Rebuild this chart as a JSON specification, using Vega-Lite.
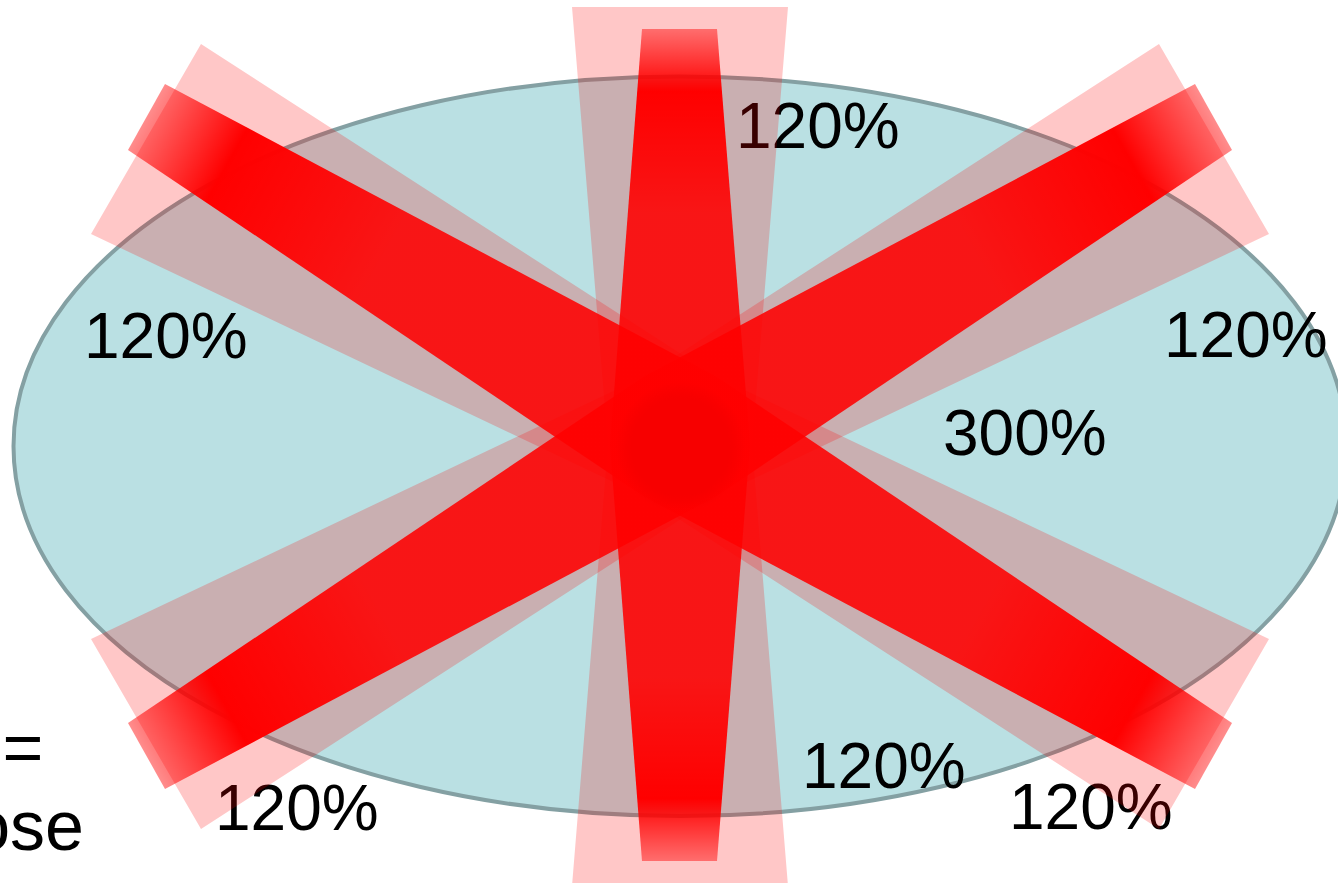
{
  "$schema": "https://vega.github.io/schema/vega-lite/v6.json",
  "width": 1338,
  "height": 883,
  "padding": 0,
  "autosize": {"type": "none"},
  "background": "white",
  "config": {"view": {"stroke": null}},
  "datasets": {
    "labels": [
      {"label": "120%", "x": 736, "y": 148},
      {"label": "120%", "x": 84, "y": 358},
      {"label": "120%", "x": 1164, "y": 357},
      {"label": "300%", "x": 943, "y": 455},
      {"label": "120%", "x": 802, "y": 788},
      {"label": "120%", "x": 215, "y": 830},
      {"label": "120%", "x": 1009, "y": 829}
    ],
    "legend": [
      {"label": "100% =", "x": 43.5, "y": 772},
      {"label": "dose", "x": 84, "y": 850}
    ],
    "pink": [
      {"beam": "V", "i": 0, "x": 572, "y": 7},
      {"beam": "V", "i": 1, "x": 788, "y": 7},
      {"beam": "V", "i": 2, "x": 752, "y": 445},
      {"beam": "V", "i": 3, "x": 788, "y": 886},
      {"beam": "V", "i": 4, "x": 572, "y": 886},
      {"beam": "V", "i": 5, "x": 608, "y": 445},
      {"beam": "D1", "i": 0, "x": 201, "y": 44},
      {"beam": "D1", "i": 1, "x": 716, "y": 376.5},
      {"beam": "D1", "i": 2, "x": 1269, "y": 639},
      {"beam": "D1", "i": 3, "x": 1159, "y": 829},
      {"beam": "D1", "i": 4, "x": 644, "y": 496.5},
      {"beam": "D1", "i": 5, "x": 91, "y": 234},
      {"beam": "D2", "i": 0, "x": 1159, "y": 44},
      {"beam": "D2", "i": 1, "x": 644, "y": 376.5},
      {"beam": "D2", "i": 2, "x": 91, "y": 639},
      {"beam": "D2", "i": 3, "x": 201, "y": 829},
      {"beam": "D2", "i": 4, "x": 716, "y": 496.5},
      {"beam": "D2", "i": 5, "x": 1269, "y": 234}
    ],
    "red": [
      {"beam": "V", "i": 0, "x": 642, "y": 29},
      {"beam": "V", "i": 1, "x": 717, "y": 29},
      {"beam": "V", "i": 2, "x": 750, "y": 445},
      {"beam": "V", "i": 3, "x": 717, "y": 861},
      {"beam": "V", "i": 4, "x": 642, "y": 861},
      {"beam": "V", "i": 5, "x": 610, "y": 445},
      {"beam": "D1", "i": 0, "x": 165, "y": 84},
      {"beam": "D1", "i": 1, "x": 716, "y": 376.5},
      {"beam": "D1", "i": 2, "x": 1232, "y": 723},
      {"beam": "D1", "i": 3, "x": 1195, "y": 789},
      {"beam": "D1", "i": 4, "x": 644, "y": 496.5},
      {"beam": "D1", "i": 5, "x": 128, "y": 150},
      {"beam": "D2", "i": 0, "x": 1195, "y": 84},
      {"beam": "D2", "i": 1, "x": 644, "y": 376.5},
      {"beam": "D2", "i": 2, "x": 128, "y": 723},
      {"beam": "D2", "i": 3, "x": 165, "y": 789},
      {"beam": "D2", "i": 4, "x": 716, "y": 496.5},
      {"beam": "D2", "i": 5, "x": 1232, "y": 150}
    ]
  },
  "layer": [
    {
      "data": {"values": [{"x": 680, "y": 446.25}]},
      "mark": {
        "type": "point",
        "shape": "M-1,0A1,0.5548,0,1,1,1,0A1,0.5548,0,1,1,-1,0Z",
        "size": 1776889,
        "filled": true,
        "fill": "#bae0e3",
        "stroke": "#84a0a3",
        "strokeWidth": 4,
        "opacity": 1
      },
      "encoding": {
        "x": {"field": "x", "type": "quantitative", "scale": {"domain": [0, 1338], "nice": false, "zero": false}, "axis": null},
        "y": {"field": "y", "type": "quantitative", "scale": {"domain": [0, 883], "nice": false, "zero": false, "reverse": true}, "axis": null}
      }
    },
    {
      "data": {"name": "labels"},
      "mark": {"type": "text", "font": "Liberation Sans", "fontSize": 64, "align": "left", "baseline": "alphabetic", "color": "black"},
      "encoding": {
        "x": {"field": "x", "type": "quantitative", "scale": {"domain": [0, 1338], "nice": false, "zero": false}, "axis": null},
        "y": {"field": "y", "type": "quantitative", "scale": {"domain": [0, 883], "nice": false, "zero": false, "reverse": true}, "axis": null},
        "text": {"field": "label"}
      }
    },
    {
      "data": {"name": "legend"},
      "mark": {"type": "text", "font": "Liberation Sans", "fontSize": 70, "align": "right", "baseline": "alphabetic", "color": "black"},
      "encoding": {
        "x": {"field": "x", "type": "quantitative", "scale": {"domain": [0, 1338], "nice": false, "zero": false}, "axis": null},
        "y": {"field": "y", "type": "quantitative", "scale": {"domain": [0, 883], "nice": false, "zero": false, "reverse": true}, "axis": null},
        "text": {"field": "label"}
      }
    },
    {
      "data": {"name": "pink"},
      "mark": {"type": "line", "interpolate": "linear-closed", "filled": true, "fill": "rgba(255,0,0,0.22)", "strokeWidth": 0, "opacity": 1},
      "encoding": {
        "x": {"field": "x", "type": "quantitative", "scale": {"domain": [0, 1338], "nice": false, "zero": false}, "axis": null},
        "y": {"field": "y", "type": "quantitative", "scale": {"domain": [0, 883], "nice": false, "zero": false, "reverse": true}, "axis": null},
        "detail": {"field": "beam"},
        "order": {"field": "i", "type": "quantitative"}
      }
    },
    {
      "data": {"name": "red"},
      "transform": [{"filter": "datum.beam == 'V'"}],
      "mark": {
        "type": "line", "interpolate": "linear-closed", "filled": true, "strokeWidth": 0, "opacity": 1,
        "fill": {
          "gradient": "linear", "x1": 0, "y1": 0, "x2": 0, "y2": 1,
          "stops": [
            {"offset": 0, "color": "rgba(255,0,0,0.45)"},
            {"offset": 0.075, "color": "rgba(255,0,0,1)"},
            {"offset": 0.22, "color": "rgba(255,0,0,0.88)"},
            {"offset": 0.78, "color": "rgba(255,0,0,0.88)"},
            {"offset": 0.925, "color": "rgba(255,0,0,1)"},
            {"offset": 1, "color": "rgba(255,0,0,0.45)"}
          ]
        }
      },
      "encoding": {
        "x": {"field": "x", "type": "quantitative", "scale": {"domain": [0, 1338], "nice": false, "zero": false}, "axis": null},
        "y": {"field": "y", "type": "quantitative", "scale": {"domain": [0, 883], "nice": false, "zero": false, "reverse": true}, "axis": null},
        "order": {"field": "i", "type": "quantitative"}
      }
    },
    {
      "data": {"name": "red"},
      "transform": [{"filter": "datum.beam == 'D1'"}],
      "mark": {
        "type": "line", "interpolate": "linear-closed", "filled": true, "strokeWidth": 0, "opacity": 1,
        "fill": {
          "gradient": "linear", "x1": -0.072, "y1": 0.295, "x2": 1.072, "y2": 0.705,
          "stops": [
            {"offset": 0, "color": "rgba(255,0,0,0.45)"},
            {"offset": 0.075, "color": "rgba(255,0,0,1)"},
            {"offset": 0.22, "color": "rgba(255,0,0,0.88)"},
            {"offset": 0.78, "color": "rgba(255,0,0,0.88)"},
            {"offset": 0.925, "color": "rgba(255,0,0,1)"},
            {"offset": 1, "color": "rgba(255,0,0,0.45)"}
          ]
        }
      },
      "encoding": {
        "x": {"field": "x", "type": "quantitative", "scale": {"domain": [0, 1338], "nice": false, "zero": false}, "axis": null},
        "y": {"field": "y", "type": "quantitative", "scale": {"domain": [0, 883], "nice": false, "zero": false, "reverse": true}, "axis": null},
        "order": {"field": "i", "type": "quantitative"}
      }
    },
    {
      "data": {"name": "red"},
      "transform": [{"filter": "datum.beam == 'D2'"}],
      "mark": {
        "type": "line", "interpolate": "linear-closed", "filled": true, "strokeWidth": 0, "opacity": 1,
        "fill": {
          "gradient": "linear", "x1": 1.072, "y1": 0.295, "x2": -0.072, "y2": 0.705,
          "stops": [
            {"offset": 0, "color": "rgba(255,0,0,0.45)"},
            {"offset": 0.075, "color": "rgba(255,0,0,1)"},
            {"offset": 0.22, "color": "rgba(255,0,0,0.88)"},
            {"offset": 0.78, "color": "rgba(255,0,0,0.88)"},
            {"offset": 0.925, "color": "rgba(255,0,0,1)"},
            {"offset": 1, "color": "rgba(255,0,0,0.45)"}
          ]
        }
      },
      "encoding": {
        "x": {"field": "x", "type": "quantitative", "scale": {"domain": [0, 1338], "nice": false, "zero": false}, "axis": null},
        "y": {"field": "y", "type": "quantitative", "scale": {"domain": [0, 883], "nice": false, "zero": false, "reverse": true}, "axis": null},
        "order": {"field": "i", "type": "quantitative"}
      }
    },
    {
      "data": {"values": [{"x": 680.5, "y": 447}]},
      "mark": {
        "type": "point", "shape": "circle", "size": 17000, "filled": true, "opacity": 1, "strokeWidth": 0,
        "fill": {
          "gradient": "radial", "x1": 0.5, "y1": 0.5, "r1": 0, "x2": 0.5, "y2": 0.5, "r2": 0.5,
          "stops": [
            {"offset": 0, "color": "#f70000"},
            {"offset": 0.75, "color": "#f70000"},
            {"offset": 1, "color": "rgba(245,0,0,0)"}
          ]
        }
      },
      "encoding": {
        "x": {"field": "x", "type": "quantitative", "scale": {"domain": [0, 1338], "nice": false, "zero": false}, "axis": null},
        "y": {"field": "y", "type": "quantitative", "scale": {"domain": [0, 883], "nice": false, "zero": false, "reverse": true}, "axis": null}
      }
    }
  ]
}
